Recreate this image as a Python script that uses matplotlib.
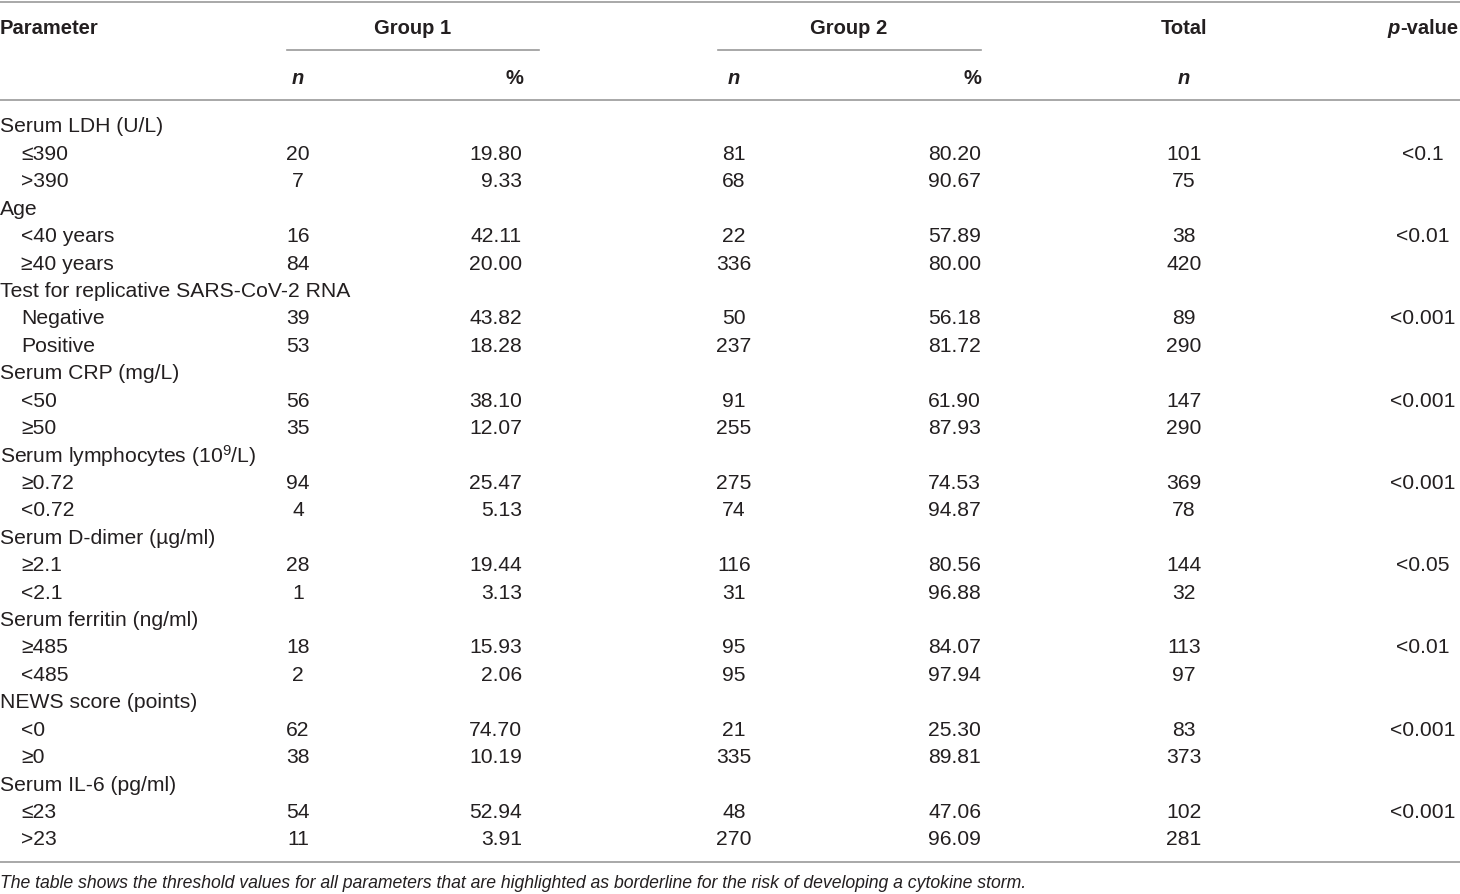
import matplotlib
matplotlib.use("Agg")
import matplotlib.pyplot as plt

plt.rcParams['font.family'] = ['Liberation Sans', 'DejaVu Sans']
plt.rcParams['mathtext.fontset'] = 'custom'
plt.rcParams['mathtext.rm'] = 'Liberation Sans'
plt.rcParams['mathtext.default'] = 'regular'

# table content
groups = ["Serum LDH (U/L)", "Age", "Test for replicative SARS-CoV-2 RNA",
          "Serum CRP (mg/L)", "Serum lymphocytes (10$^{9}$/L)",
          "Serum D-dimer (\u00b5g/ml)", "Serum ferritin (ng/ml)",
          "NEWS score (points)", "Serum IL-6 (pg/ml)"]
levels = [["\u2264390", ">390"], ["<40 years", "\u226540 years"],
          ["Negative", "Positive"], ["<50", "\u226550"],
          ["\u22650.72", "<0.72"], ["\u22652.1", "<2.1"],
          ["\u2265485", "<485"], ["<0", "\u22650"], ["\u226423", ">23"]]
g1_n = [[20, 7], [16, 84], [39, 53], [56, 35], [94, 4], [28, 1], [18, 2], [62, 38], [54, 11]]
g1_pct = [["19.80", "9.33"], ["42.11", "20.00"], ["43.82", "18.28"], ["38.10", "12.07"],
          ["25.47", "5.13"], ["19.44", "3.13"], ["15.93", "2.06"], ["74.70", "10.19"],
          ["52.94", "3.91"]]
g2_n = [[81, 68], [22, 336], [50, 237], [91, 255], [275, 74], [116, 31], [95, 95], [21, 335], [48, 270]]
g2_pct = [["80.20", "90.67"], ["57.89", "80.00"], ["56.18", "81.72"], ["61.90", "87.93"],
          ["74.53", "94.87"], ["80.56", "96.88"], ["84.07", "97.94"], ["25.30", "89.81"],
          ["47.06", "96.09"]]
total_n = [[101, 75], [38, 420], [89, 290], [147, 290], [369, 78], [144, 32], [113, 97], [83, 373], [102, 281]]
p_values = ["<0.1", "<0.01", "<0.001", "<0.001", "<0.001", "<0.05", "<0.01", "<0.001", "<0.001"]
caption = ("The table shows the threshold values for all parameters that are highlighted "
           "as borderline for the risk of developing a cytokine storm.")

W, H = 1460, 894
fig = plt.figure(figsize=(W / 100, H / 100), dpi=100)
fig.patch.set_facecolor("white")

TXT = "#231f20"
LINE = "#9a9a9a"
FS = 15.2
FSH = 14.5


def put(x, y, s, ha="left", **kw):
    kw.setdefault("fontsize", FS)
    kw.setdefault("color", TXT)
    return fig.text(x / W, 1 - y / H, s, ha=ha, va="center", **kw)


def hline(x0, x1, y, lw=1.2):
    fig.add_artist(plt.Line2D([x0 / W, x1 / W], [1 - y / H, 1 - y / H],
                              color=LINE, lw=lw, transform=fig.transFigure))


# rules
hline(0, W, 1.5)
hline(287, 539, 50)
hline(718, 981, 50)
hline(0, W, 100)
hline(0, W, 862)

# header
put(0, 28, "Parameter", weight="bold", fontsize=FSH)
put(413, 28, "Group 1", ha="center", weight="bold", fontsize=FSH)
put(849, 28, "Group 2", ha="center", weight="bold", fontsize=FSH)
put(1184, 28, "Total", ha="center", weight="bold", fontsize=FSH)
t = put(1458, 28, "-value", ha="right", weight="bold", fontsize=FSH)
fig.canvas.draw()
bb = t.get_window_extent()
put(bb.x0, 28, "p", ha="right", weight="bold", style="italic", fontsize=FSH)

put(298, 78, "n", ha="center", weight="bold", style="italic", fontsize=FSH)
put(523, 78, "%", ha="right", weight="bold", fontsize=FSH)
put(734, 78, "n", ha="center", weight="bold", style="italic", fontsize=FSH)
put(981, 78, "%", ha="right", weight="bold", fontsize=FSH)
put(1184, 78, "n", ha="center", weight="bold", style="italic", fontsize=FSH)

# body
y = 127
step = 27.42
for i, name in enumerate(groups):
    put(0, y, name)
    y += step
    for j in range(2):
        put(21, y, levels[i][j])
        put(298, y, str(g1_n[i][j]), ha="center")
        put(522, y, g1_pct[i][j], ha="right")
        put(734, y, str(g2_n[i][j]), ha="center")
        put(981, y, g2_pct[i][j], ha="right")
        put(1184, y, str(total_n[i][j]), ha="center")
        if j == 0:
            put(1423, y, p_values[i], ha="center")
        y += step

put(0, 883, caption, style="italic", fontsize=12.7)

fig.savefig("out.png", dpi=100, facecolor="white")
